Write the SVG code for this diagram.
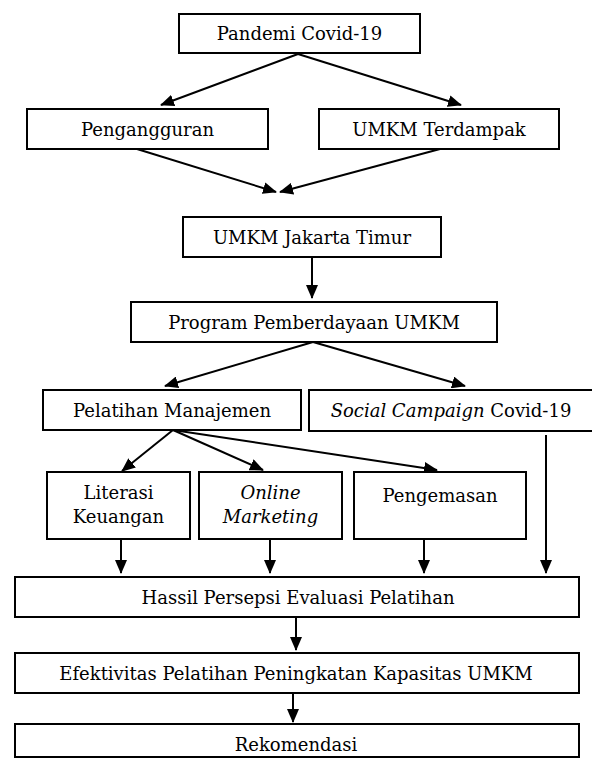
<svg xmlns="http://www.w3.org/2000/svg" width="592" height="760" viewBox="0 0 592 760">
<defs>
<marker id="ah" markerUnits="userSpaceOnUse" markerWidth="14" markerHeight="12" refX="13" refY="6" orient="auto">
<path d="M0,0 L14,6 L0,12 z" fill="#000"/>
</marker>
<style>
.box{fill:#fff;stroke:#000;stroke-width:2}
.t{font-family:"DejaVu Serif","Liberation Serif",serif;font-size:18px;fill:#000;text-anchor:middle}
.i{font-style:italic}
.c{stroke:#000;stroke-width:2;fill:none;marker-end:url(#ah)}
</style>
</defs>
<rect width="592" height="760" fill="#fff"/>
<g id="connectors">
<line class="c" x1="298" y1="54" x2="161" y2="105"/>
<line class="c" x1="298" y1="54" x2="461" y2="105"/>
<line class="c" x1="137" y1="149" x2="276" y2="192"/>
<line class="c" x1="440" y1="149" x2="280" y2="192"/>
<line class="c" x1="312" y1="257" x2="312" y2="298"/>
<line class="c" x1="313" y1="342" x2="165" y2="386"/>
<line class="c" x1="313" y1="342" x2="465" y2="386"/>
<line class="c" x1="173" y1="430" x2="122" y2="471"/>
<line class="c" x1="173" y1="430" x2="263" y2="470"/>
<line class="c" x1="173" y1="430" x2="437" y2="470"/>
<line class="c" x1="121" y1="539" x2="121" y2="573"/>
<line class="c" x1="270" y1="539" x2="270" y2="573"/>
<line class="c" x1="424" y1="539" x2="424" y2="573"/>
<line class="c" x1="546" y1="435" x2="546" y2="573"/>
<line class="c" x1="296" y1="617" x2="296" y2="650"/>
<line class="c" x1="293" y1="693" x2="293" y2="722"/>
</g>
<g id="pandemi"><rect class="box" x="179" y="14" width="241" height="39"/><text class="t" x="299.5" y="40">Pandemi Covid-19</text></g>
<g id="pengangguran"><rect class="box" x="27" y="109" width="241" height="40"/><text class="t" x="147.5" y="136">Pengangguran</text></g>
<g id="umkm-terdampak"><rect class="box" x="319" y="109" width="240" height="40"/><text class="t" x="439" y="136">UMKM Terdampak</text></g>
<g id="umkm-jaktim"><rect class="box" x="183" y="217" width="258" height="40"/><text class="t" x="312" y="244">UMKM Jakarta Timur</text></g>
<g id="program"><rect class="box" x="131" y="302" width="366" height="40"/><text class="t" x="314" y="329">Program Pemberdayaan UMKM</text></g>
<g id="pelatihan"><rect class="box" x="43" y="390" width="258" height="40"/><text class="t" x="172" y="417">Pelatihan Manajemen</text></g>
<g id="social"><rect class="box" x="309" y="390" width="290" height="41"/><text class="t" x="451" y="417"><tspan class="i">Social Campaign</tspan> Covid-19</text></g>
<g id="literasi"><rect class="box" x="47" y="472" width="143" height="67"/><text class="t" x="118.5" y="499">Literasi</text><text class="t" x="118.5" y="523">Keuangan</text></g>
<g id="online"><rect class="box" x="199" y="472" width="143" height="67"/><text class="t i" x="270.5" y="499">Online</text><text class="t i" x="270.5" y="523">Marketing</text></g>
<g id="pengemasan"><rect class="box" x="354" y="472" width="172" height="67"/><text class="t" x="440" y="502">Pengemasan</text></g>
<g id="hassil"><rect class="box" x="15" y="577" width="564" height="40"/><text class="t" x="298" y="604">Hassil Persepsi Evaluasi Pelatihan</text></g>
<g id="efektivitas"><rect class="box" x="15" y="653" width="564" height="40"/><text class="t" x="296" y="680">Efektivitas Pelatihan Peningkatan Kapasitas UMKM</text></g>
<g id="rekomendasi"><rect class="box" x="15" y="724" width="564" height="33"/><text class="t" x="296" y="751">Rekomendasi</text></g>
</svg>
